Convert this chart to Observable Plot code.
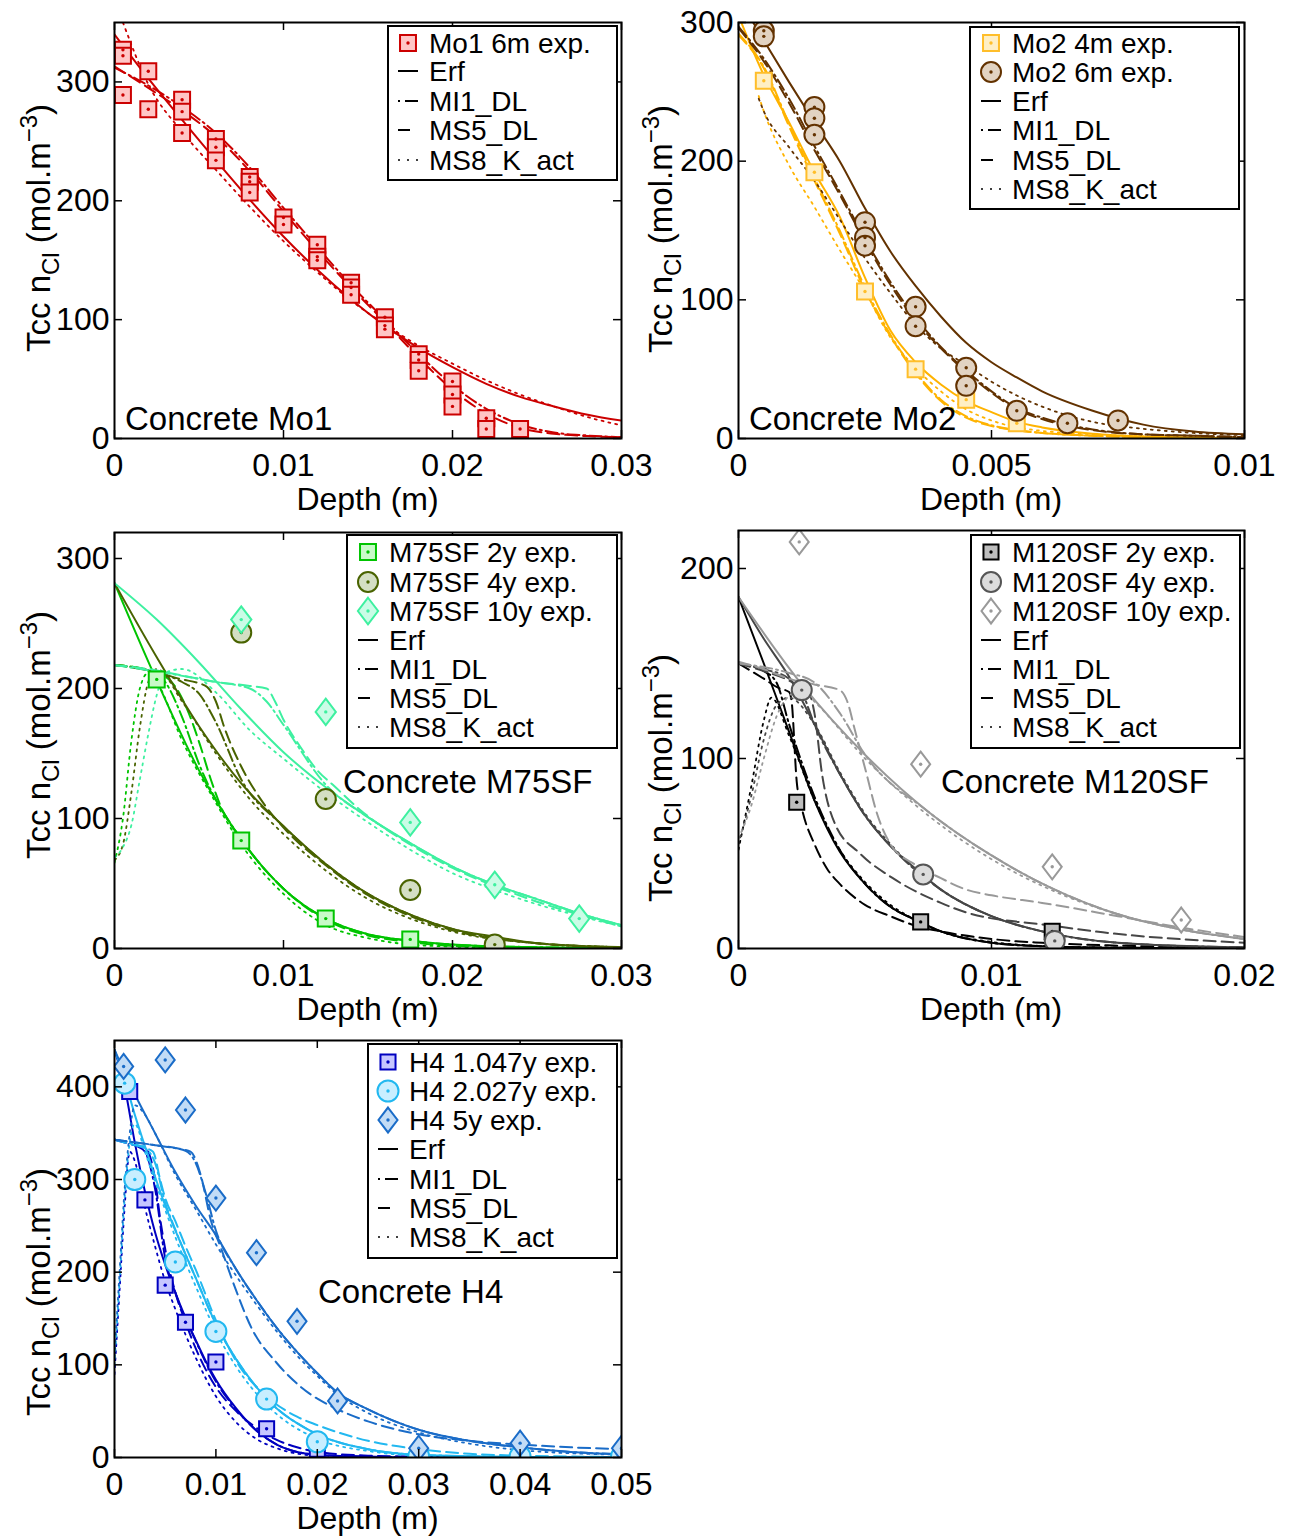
<!DOCTYPE html>
<html><head><meta charset="utf-8">
<script src="https://cdn.jsdelivr.net/npm/d3@7"></script>
<script src="https://cdn.jsdelivr.net/npm/@observablehq/plot@0.6"></script>
<style>
body{margin:0;background:#fff;}
#root{position:relative;width:1289px;height:1537px;font-family:"Liberation Sans",Arial,sans-serif;background:#fff;}
.panel{position:absolute;}
</style></head><body><div id="root"></div>
<script>
// ---------------- DATA ----------------
// Panel 1 : Concrete Mo1
const mo1ExpX = [0.0005,0.0005,0.0005,0.002,0.002,0.004,0.004,0.004,0.006,0.006,0.006,0.008,0.008,0.008,0.01,0.01,0.012,0.012,0.012,0.014,0.014,0.014,0.016,0.016,0.016,0.018,0.018,0.018,0.02,0.02,0.02,0.022,0.022,0.024];
const mo1ExpY = [327,322,289,309,277,285,275,257,252,245,234,220,216,207,186,180,163,153,150,131,127,121,102,95,92,71,66,57,48,37,27,17,8,8];
const mo1X = [0,0.002,0.004,0.006,0.008,0.01,0.012,0.014,0.016,0.018,0.02,0.022,0.024,0.026,0.028,0.03];
const mo1Erf = [340,303,268,234,201,170,142,117,95,76,60,46,35,27,20,15];
const mo1MI1 = [312,297,279,257,228,194,161,129,100,71,45,25,12,5,2.5,1];
const mo1MS5 = [313,295,276,254,225,191,158,127,98,68,41,21,9,4,2,1];
const mo1MS8X = [0.0005,0.002,0.004,0.006,0.008,0.01,0.012,0.014,0.016,0.018,0.02,0.022,0.024,0.026,0.028,0.03];
const mo1MS8 = [350,298,258,226,195,166,140,116,96,78,63,49,37,27,18,11];

// Panel 2 : Concrete Mo2
const mo2Exp4X = [0.0005,0.0015,0.0025,0.0035,0.0045,0.0055];
const mo2Exp4Y = [258,192,106,50,28,11];
const mo2Exp6X = [0.0005,0.0005,0.0015,0.0015,0.0015,0.0025,0.0025,0.0025,0.0035,0.0035,0.0045,0.0045,0.0055,0.0065,0.0075];
const mo2Exp6Y = [294,290,239,231,219,156,145,139,95,81,51,38,20,11,13];
const mo2X = [0,0.0005,0.001,0.0015,0.002,0.0025,0.003,0.0035,0.004,0.0045,0.005,0.0055,0.006,0.007,0.008,0.009,0.01];
const mo2Erf6 = [318,287,257,228,200,166,135,110,88,69,55,44,34,20,10,5,3];
const mo2MI1_6 = [297,274,245,211,178,144,113,87,66,49,34,22,15,6.5,3,2,1];
const mo2MS5_6 = [296,272,242,208,176,142,111,85,65,48,33,21,14,6,3,2,1];
const mo2Erf4 = [305,262,228,192,160,116,78,55,39,27,19,12,8,3.5,1.5,0.7,0.3];
const mo2MI1_4 = [292,268,227,188,150,109,75,48,28,16,9.5,6,4,2,1,0.5,0.3];
const mo2MS5_4 = [291,267,225,186,148,107,74,47,27,15,9,6,4,2,1,0.5,0.3];
const mo2MS8X = [0.0004,0.0005,0.001,0.0015,0.002,0.0025,0.003,0.0035,0.004,0.0045,0.005,0.0055,0.006,0.007,0.008,0.009,0.01];
const mo2MS8_6 = [245,236,210,186,158,130,105,82,65,53,41,31,23,12,7,4,2.4];
const mo2MS8_4 = [247,236,197,167,136,106,73,51,34,21,13,8,5.5,3,1.5,1,0.5];

// Panel 3 : Concrete M75SF
const m75Exp2X = [0.0025,0.0075,0.0125,0.0175,0.0225];
const m75Exp2Y = [207,83,23,7,1];
const m75Exp4X = [0.0075,0.0125,0.0175,0.0225];
const m75Exp4Y = [243,115,45,3];
const m75Exp10X = [0.0075,0.0125,0.0175,0.0225,0.0275];
const m75Exp10Y = [253,182,97,49,23];
const m75X = [0,0.0025,0.005,0.0075,0.01,0.0125,0.015,0.0175,0.02,0.0225,0.025,0.0275,0.03];
const m75Erf2 = [281,206,137,84,46,23,11,6,3,1.5,1,0.5,0.3];
const m75Erf4 = [281,224,171,127,94,65,42,26,15,9,4,2,1];
const m75Erf10 = [281,253,220,184,151,124,101,81,63,49,38,27,18];
const m75MS5_2X = [0,0.002,0.0033,0.0043,0.0051,0.0057,0.0063,0.0075,0.01,0.0125,0.015,0.0175,0.02,0.025,0.03];
const m75MS5_2 = [218,214,206,184,155,130,109,84,46,22,10,5,2,0.5,0.2];
const m75MS5_4X = [0,0.002,0.004,0.005,0.0055,0.006,0.0065,0.0075,0.0088,0.01,0.0125,0.015,0.0175,0.02,0.025,0.03];
const m75MS5_4 = [218,214,207,204,201,190,170,140,112,93,64,41,25,14,4,1];
const m75MS5_10X = [0,0.002,0.004,0.006,0.008,0.009,0.0095,0.01,0.011,0.012,0.013,0.0145,0.0175,0.02,0.0225,0.025,0.0275,0.03];
const m75MS5_10 = [218,215,210,205,202,200,190,176,155,137,125,107,80,62,48,36,26,17];
const m75MI1_2X = [0,0.002,0.003,0.004,0.005,0.0075,0.01,0.0125,0.015,0.0175,0.02,0.025,0.03];
const m75MI1_2 = [218,214,205,178,142,84,46,23,11,6,3,1,0.3];
const m75MI1_4X = [0,0.002,0.004,0.005,0.006,0.0075,0.01,0.0125,0.015,0.0175,0.02,0.025,0.03];
const m75MI1_4 = [218,214,205,196,174,130,94,65,42,26,15,4,1];
const m75MI1_10X = [0,0.003,0.006,0.008,0.009,0.01,0.0125,0.015,0.0175,0.02,0.0225,0.025,0.0275,0.03];
const m75MI1_10 = [218,212,205,200,190,172,126,101,81,63,49,38,27,18];
const m75MS8_2X = [0,0.0005,0.001,0.0015,0.002,0.0025,0.004,0.006,0.0075,0.01,0.0125,0.015,0.0175,0.02,0.025,0.03];
const m75MS8_2 = [66,100,160,200,212,205,160,112,80,42,18,8,3,1.5,0.4,0.1];
const m75MS8_4X = [0,0.0005,0.001,0.0015,0.002,0.0025,0.004,0.006,0.008,0.01,0.0125,0.015,0.0175,0.02,0.025,0.03];
const m75MS8_4 = [68,80,120,170,205,215,190,150,115,88,60,38,23,13,4,1];
const m75MS8_10X = [0,0.0005,0.001,0.0015,0.002,0.0025,0.003,0.004,0.006,0.008,0.01,0.0125,0.015,0.0175,0.02,0.0225,0.025,0.0275,0.03];
const m75MS8_10 = [70,78,95,130,165,195,212,215,197,168,146,120,97,76,58,45,34,25,17];

// Panel 4 : Concrete M120SF
const m120Exp2X = [0.0023,0.0072,0.0124];
const m120Exp2Y = [77,14,9];
const m120Exp4X = [0.0025,0.0073,0.0125];
const m120Exp4Y = [136,39,4];
const m120Exp10X = [0.0024,0.0072,0.0124,0.0175];
const m120Exp10Y = [214,97,43,15];
const m120ErfX = [0,0.001,0.002,0.003,0.004,0.005,0.006,0.007,0.008,0.01,0.012,0.015,0.02];
const m120Erf2 = [185,150,114,78,51,34,22,15,9,3,1.2,0.4,0.1];
const m120Erf4 = [185,163,143,118,92,70,54,42,31,17,9,3,0.5];
const m120Erf10X = [0,0.0025,0.005,0.0075,0.01,0.0125,0.015,0.0175,0.02];
const m120Erf10 = [185,139,102,72,49,31,18,10,5];
const m120MS5_2X = [0,0.001,0.0016,0.002,0.0021,0.0023,0.0025,0.003,0.0035,0.004,0.005,0.006,0.007,0.008,0.01,0.012,0.015,0.02];
const m120MS5_2 = [150,142,137,135,130,88,74,55,42,34,23,17,12,9,5,3,1.5,0.5];
const m120MS5_4X = [0,0.001,0.002,0.0028,0.003,0.0033,0.0038,0.0048,0.0061,0.008,0.009,0.0124,0.0144,0.02];
const m120MS5_4 = [150,146,141,134,124,92,66,50,37,24,19,12,8.5,3];
const m120MS5_10X = [0,0.001,0.002,0.003,0.004,0.0043,0.0046,0.005,0.0055,0.006,0.007,0.008,0.009,0.01,0.012,0.015,0.0175,0.02];
const m120MS5_10 = [151,147,142,139,136,130,115,95,70,55,44,37,31,28,24,17,11,6];
const m120MI1_2X = [0,0.001,0.0015,0.002,0.003,0.004,0.005,0.006,0.007,0.008,0.01,0.012,0.015,0.02];
const m120MI1_2 = [150,146,140,118,80,52,34,22,15,9,3,1.2,0.4,0.1];
const m120MI1_4X = [0,0.001,0.002,0.0025,0.003,0.004,0.005,0.006,0.008,0.01,0.012,0.015,0.02];
const m120MI1_4 = [150,147,142,135,118,92,70,54,31,17,9,3,0.5];
const m120MI1_10X = [0,0.002,0.003,0.004,0.005,0.0075,0.01,0.0125,0.015,0.0175,0.02];
const m120MI1_10 = [150,145,140,124,102,72,49,31,18,10,5];
const m120MS8_2X = [0,0.0005,0.001,0.0013,0.002,0.003,0.004,0.005,0.006,0.007,0.008,0.01,0.012,0.015,0.02];
const m120MS8_2 = [52,85,120,132,112,78,52,35,23,15,9,3.5,1.3,0.4,0.1];
const m120MS8_4X = [0,0.0005,0.001,0.0015,0.002,0.003,0.004,0.005,0.006,0.008,0.01,0.012,0.015,0.02];
const m120MS8_4 = [55,80,110,128,132,118,93,71,55,31,17,9,3,0.5];
const m120MS8_10X = [0,0.0005,0.001,0.0015,0.002,0.0025,0.003,0.005,0.0075,0.01,0.0125,0.015,0.0175,0.02];
const m120MS8_10 = [58,75,100,122,133,136,130,100,70,47,30,18,10,5];

// Panel 5 : Concrete H4
const h4Exp1X = [0.0015,0.003,0.005,0.007,0.01,0.015,0.02];
const h4Exp1Y = [395,278,186,146,103,31,9];
const h4Exp2X = [0.001,0.002,0.006,0.01,0.015,0.02,0.03,0.04,0.05];
const h4Exp2Y = [404,300,211,136,63,17,1,1,1];
const h4Exp5X = [0.0009,0.005,0.007,0.01,0.014,0.018,0.022,0.03,0.04,0.05];
const h4Exp5Y = [422,429,375,280,221,147,61,10,15.5,10];
const h4Erf1X = [0,0.001,0.002,0.003,0.004,0.005,0.006,0.007,0.008,0.009,0.01,0.012,0.014,0.016,0.018,0.02,0.025,0.03,0.05];
const h4Erf1 = [440,400,340,287,243,208,178,151,127,104,84,53,29,14,6,3,0.8,0.2,0];
const h4Erf2X = [0,0.001,0.002,0.003,0.004,0.005,0.006,0.008,0.01,0.012,0.014,0.016,0.018,0.02,0.025,0.03,0.04,0.05];
const h4Erf2 = [440,408,370,336,303,272,245,194,144,106,76,53,37,25,9,3,0.5,0];
const h4Erf5X = [0,0.002,0.004,0.006,0.008,0.01,0.012,0.014,0.016,0.018,0.02,0.022,0.025,0.03,0.035,0.04,0.045,0.05];
const h4Erf5 = [440,392,350,308,272,240,203,170,140,114,91,70,52,30,18,11,6,3.5];
const h4MS5_1X = [0,0.001,0.002,0.003,0.0035,0.004,0.0045,0.005,0.006,0.007,0.008,0.01,0.012,0.014,0.016,0.018,0.02,0.025,0.03,0.05];
const h4MS5_1 = [343,340,337,334,325,300,258,225,178,146,118,76,50,32,19,11,6,2,1,0];
const h4MS5_2X = [0,0.001,0.002,0.003,0.0038,0.0045,0.005,0.006,0.007,0.008,0.01,0.012,0.015,0.018,0.02,0.025,0.03,0.035,0.04,0.05];
const h4MS5_2 = [343,340,337,334,330,300,280,255,228,203,148,104,66,44,35,18,9,4,2,0.5];
const h4MS5_5X = [0,0.002,0.004,0.006,0.0075,0.0085,0.0095,0.0105,0.012,0.0135,0.016,0.0185,0.022,0.025,0.03,0.035,0.04,0.045,0.05];
const h4MS5_5 = [343,340,337,334,330,305,256,226,180,140,102,75,52,39,25,18,14,11,9];
const h4MI1_1X = [0,0.002,0.003,0.004,0.005,0.006,0.008,0.01,0.012,0.014,0.016,0.018,0.02,0.025,0.03,0.05];
const h4MI1_1 = [343,337,330,290,215,178,126,82,52,29,14,6,3,1,0.3,0];
const h4MI1_2X = [0,0.002,0.003,0.004,0.005,0.006,0.008,0.01,0.012,0.014,0.016,0.018,0.02,0.025,0.03,0.04,0.05];
const h4MI1_2 = [343,338,334,318,275,246,194,144,106,76,53,37,25,9,3,0.5,0];
const h4MI1_5X = [0,0.004,0.007,0.008,0.009,0.01,0.012,0.014,0.016,0.018,0.02,0.022,0.025,0.03,0.035,0.04,0.045,0.05];
const h4MI1_5 = [343,337,331,318,285,245,203,170,140,114,91,70,52,30,18,11,6,3.5];
const h4MS8_1X = [0,0.0005,0.001,0.0015,0.002,0.003,0.004,0.005,0.006,0.008,0.01,0.012,0.014,0.016,0.02,0.03,0.05];
const h4MS8_1 = [90,180,270,330,320,270,228,190,160,108,66,38,20,10,2,0.3,0];
const h4MS8_2X = [0,0.0005,0.001,0.0015,0.002,0.003,0.004,0.006,0.008,0.01,0.012,0.015,0.02,0.025,0.03,0.04,0.05];
const h4MS8_2 = [100,190,280,340,360,330,298,238,185,136,98,57,20,7,2,0.3,0];
const h4MS8_5X = [0,0.0005,0.001,0.0015,0.002,0.003,0.004,0.006,0.008,0.01,0.012,0.014,0.016,0.018,0.02,0.022,0.025,0.03,0.035,0.04,0.05];
const h4MS8_5 = [110,200,290,350,380,370,350,305,268,230,196,165,136,110,88,68,48,27,15,8,3];

// Tick values
const xTicks1 = [0,0.01,0.02,0.03];
const xTicks2 = [0,0.005,0.01];
const xTicks4 = [0,0.01,0.02];
const xTicks5 = [0,0.01,0.02,0.03,0.04,0.05];
const yTicks123 = [0,100,200,300];
const yTicks4 = [0,100,200];
const yTicks5 = [0,100,200,300,400];
const modelNames = ["Erf","MI1_DL","MS5_DL","MS8_K_act"];

// ---------------- RENDERING ----------------
const FONT = '"Liberation Sans", Arial, Helvetica, sans-serif';
const rows = (xs, ys) => xs.map((x, i) => ({x, y: ys[i]}));
const diamondSym = {draw(ctx, size){const r=Math.sqrt(size/Math.PI);const hh=1.56*r,hw=1.19*r;ctx.moveTo(0,-hh);ctx.lineTo(hw,0);ctx.lineTo(0,hh);ctx.lineTo(-hw,0);ctx.closePath();}};
const PLOTSYM = {square:"square", circle:"circle", diamond: diamondSym};
const D3SYM = {square:d3.symbolSquare, circle:d3.symbolCircle, diamond: diamondSym};
const DASH = {erf: null, mi1: "12,4,2,4", ms5: "12,6", ms8: "2,5"};

const C = {
  red:"#CC0000", redFill:"#FFC6C6",
  yellow:"#FFB300", yellowEdge:"#FFBE2A", yellowFill:"#FFEFC4",
  brown:"#633200", brownFill:"#E2D3C2",
  green:"#00C400", greenFill:"#C8FAC8",
  olive:"#496300", oliveFill:"#D4DFC4",
  aqua:"#3EF0A0", aquaFill:"#CAFCE6",
  black:"#000000", blackFill:"#BDBDBD",
  dgray:"#464646", dgrayEdge:"#555555", dgrayFill:"#DCDCDC",
  lgray:"#999999", lgrayFill:"#FFFFFF",
  dblue:"#0000C0", dblueFill:"#C6C6FF",
  cyan:"#22B8F0", cyanFill:"#C8EEFF",
  mblue:"#1A6CC8", mblueFill:"#C2DCF6"
};

function series(color, erf, mi1, ms5, ms8) {
  return [
    {kind:"erf", color, xs:erf[0], ys:erf[1]},
    {kind:"mi1", color, xs:mi1[0], ys:mi1[1]},
    {kind:"ms5", color, xs:ms5[0], ys:ms5[1]},
    {kind:"ms8", color, xs:ms8[0], ys:ms8[1]}
  ];
}

const panels = [
  { left:0, top:0, width:645, height:520, m:[22,24,82,114],
    xDomain:[0,0.03], yDomain:[0,350], xTicks:xTicks1, yTicks:yTicks123,
    lines: series(C.red,[mo1X,mo1Erf],[mo1X,mo1MI1],[mo1X,mo1MS5],[mo1MS8X,mo1MS8]),
    exp: [{label:"Mo1 6m exp.", xs:mo1ExpX, ys:mo1ExpY, shape:"square", r:9, fill:C.redFill, stroke:C.red}],
    legend:{box:[388,26,617,180], mx:408, tx:429, rows:[43,71,101,130,160]},
    ylab:{x:50, y:228}, note:{text:"Concrete Mo1", x:125, y:418} },
  { left:645, top:0, width:644, height:520, m:[22,45,82,93],
    xDomain:[0,0.01], yDomain:[0,300], xTicks:xTicks2, yTicks:yTicks123,
    lines: [
      ...series(C.yellow,[mo2X,mo2Erf4],[mo2X,mo2MI1_4],[mo2X,mo2MS5_4],[mo2MS8X,mo2MS8_4]),
      ...series(C.brown,[mo2X,mo2Erf6],[mo2X,mo2MI1_6],[mo2X,mo2MS5_6],[mo2MS8X,mo2MS8_6])],
    exp: [
      {label:"Mo2 4m exp.", xs:mo2Exp4X, ys:mo2Exp4Y, shape:"square", r:9, fill:C.yellowFill, stroke:C.yellowEdge},
      {label:"Mo2 6m exp.", xs:mo2Exp6X, ys:mo2Exp6Y, shape:"circle", r:10, fill:C.brownFill, stroke:C.brown}],
    legend:{box:[970,27,1239,209], mx:991, tx:1012, rows:[43,72,101,130,160,189]},
    ylab:{x:672, y:229}, note:{text:"Concrete Mo2", x:749, y:418} },
  { left:0, top:520, width:645, height:510, m:[12,24,82,114],
    xDomain:[0,0.03], yDomain:[0,320], xTicks:xTicks1, yTicks:yTicks123,
    lines: [
      ...series(C.green,[m75X,m75Erf2],[m75MI1_2X,m75MI1_2],[m75MS5_2X,m75MS5_2],[m75MS8_2X,m75MS8_2]),
      ...series(C.olive,[m75X,m75Erf4],[m75MI1_4X,m75MI1_4],[m75MS5_4X,m75MS5_4],[m75MS8_4X,m75MS8_4]),
      ...series(C.aqua,[m75X,m75Erf10],[m75MI1_10X,m75MI1_10],[m75MS5_10X,m75MS5_10],[m75MS8_10X,m75MS8_10])],
    exp: [
      {label:"M75SF 2y exp.", xs:m75Exp2X, ys:m75Exp2Y, shape:"square", r:9, fill:C.greenFill, stroke:C.green},
      {label:"M75SF 4y exp.", xs:m75Exp4X, ys:m75Exp4Y, shape:"circle", r:10, fill:C.oliveFill, stroke:C.olive},
      {label:"M75SF 10y exp.", xs:m75Exp10X, ys:m75Exp10Y, shape:"diamond", r:8.5, fill:C.aquaFill, stroke:C.aqua}],
    legend:{box:[347,535,617,748], mx:368, tx:389, rows:[552,582,611,640,669,698,727]},
    ylab:{x:50, y:735}, note:{text:"Concrete M75SF", x:343, y:781} },
  { left:645, top:520, width:644, height:510, m:[10,45,82,93],
    xDomain:[0,0.02], yDomain:[0,220], xTicks:xTicks4, yTicks:yTicks4,
    lines: [
      ...series(C.black,[m120ErfX,m120Erf2],[m120MI1_2X,m120MI1_2],[m120MS5_2X,m120MS5_2],[m120MS8_2X,m120MS8_2]),
      ...series(C.dgray,[m120ErfX,m120Erf4],[m120MI1_4X,m120MI1_4],[m120MS5_4X,m120MS5_4],[m120MS8_4X,m120MS8_4]),
      ...series(C.lgray,[m120Erf10X,m120Erf10],[m120MI1_10X,m120MI1_10],[m120MS5_10X,m120MS5_10],[m120MS8_10X,m120MS8_10])],
    exp: [
      {label:"M120SF 2y exp.", xs:m120Exp2X, ys:m120Exp2Y, shape:"square", r:8.5, fill:C.blackFill, stroke:C.black},
      {label:"M120SF 4y exp.", xs:m120Exp4X, ys:m120Exp4Y, shape:"circle", r:10, fill:C.dgrayFill, stroke:C.dgrayEdge},
      {label:"M120SF 10y exp.", xs:m120Exp10X, ys:m120Exp10Y, shape:"diamond", r:8, fill:C.lgrayFill, stroke:C.lgray}],
    legend:{box:[971,535,1240,748], mx:991, tx:1012, rows:[552,582,611,640,669,698,727]},
    ylab:{x:672, y:778}, note:{text:"Concrete M120SF", x:941, y:781} },
  { left:0, top:1030, width:645, height:507, m:[10,24,80,114],
    xDomain:[0,0.05], yDomain:[0,450], xTicks:xTicks5, yTicks:yTicks5,
    lines: [
      ...series(C.dblue,[h4Erf1X,h4Erf1],[h4MI1_1X,h4MI1_1],[h4MS5_1X,h4MS5_1],[h4MS8_1X,h4MS8_1]),
      ...series(C.cyan,[h4Erf2X,h4Erf2],[h4MI1_2X,h4MI1_2],[h4MS5_2X,h4MS5_2],[h4MS8_2X,h4MS8_2]),
      ...series(C.mblue,[h4Erf5X,h4Erf5],[h4MI1_5X,h4MI1_5],[h4MS5_5X,h4MS5_5],[h4MS8_5X,h4MS8_5])],
    exp: [
      {label:"H4 1.047y exp.", xs:h4Exp1X, ys:h4Exp1Y, shape:"square", r:8.5, fill:C.dblueFill, stroke:C.dblue},
      {label:"H4 2.027y exp.", xs:h4Exp2X, ys:h4Exp2Y, shape:"circle", r:10.5, fill:C.cyanFill, stroke:C.cyan},
      {label:"H4 5y exp.", xs:h4Exp5X, ys:h4Exp5Y, shape:"diamond", r:8, fill:C.mblueFill, stroke:C.mblue}],
    legend:{box:[368,1044,617,1258], mx:388, tx:409, rows:[1062,1091,1120,1149,1179,1208,1237]},
    ylab:{x:50, y:1292}, note:{text:"Concrete H4", x:318, y:1291} }
];

const root = document.getElementById("root");

for (const p of panels) {
  const [mt, mr, mb, ml] = p.m;
  const pw = p.width - ml - mr, ph = p.height - mt - mb;
  const marks = [];
  for (const L of p.lines) {
    marks.push(Plot.line(rows(L.xs, L.ys), {x:"x", y:"y", stroke:L.color,
      strokeWidth: L.kind === "ms8" ? 1.8 : 2, strokeDasharray: DASH[L.kind],
      curve:"monotone-x", clip:true}));
  }
  for (const E of p.exp) {
    const d = rows(E.xs, E.ys);
    marks.push(Plot.dot(d, {x:"x", y:"y", symbol:PLOTSYM[E.shape], r:E.r, fill:E.fill, fillOpacity:1, stroke:E.stroke, strokeWidth:2, clip:true}));
    marks.push(Plot.dot(d, {x:"x", y:"y", r:1.7, fill:E.stroke, stroke:"none", clip:true}));
  }
  marks.push(Plot.tickX(p.xTicks, {x:d=>d, insetTop:ph-8, stroke:"#000", strokeWidth:1.5}));
  marks.push(Plot.tickX(p.xTicks, {x:d=>d, insetBottom:ph-8, stroke:"#000", strokeWidth:1.5}));
  marks.push(Plot.tickY(p.yTicks, {y:d=>d, insetRight:pw-8, stroke:"#000", strokeWidth:1.5}));
  marks.push(Plot.tickY(p.yTicks, {y:d=>d, insetLeft:pw-8, stroke:"#000", strokeWidth:1.5}));
  marks.push(Plot.frame({stroke:"#000", strokeWidth:2}));
  marks.push(Plot.axisX({ticks:p.xTicks, tickSize:0, tickPadding:15, fontSize:32, fontFamily:FONT, tickFormat:d=>String(d), label:null}));
  marks.push(Plot.axisY({ticks:p.yTicks, tickSize:0, tickPadding:5, fontSize:32, fontFamily:FONT, tickFormat:d=>String(d), label:null}));

  const svg = Plot.plot({
    width:p.width, height:p.height,
    marginTop:mt, marginRight:mr, marginBottom:mb, marginLeft:ml,
    x:{domain:p.xDomain, label:null},
    y:{domain:p.yDomain, label:null},
    style:{fontFamily:FONT, color:"#000", background:"transparent", overflow:"visible"},
    marks
  });

  const s = d3.select(svg);
  const ox = p.left, oy = p.top;

  // x label
  s.append("text").attr("x", ml + pw/2).attr("y", mt + ph + 72)
    .attr("text-anchor","middle").attr("font-size",32).attr("font-family",FONT).attr("fill","#000")
    .text("Depth (m)");

  // y label with sub/superscript
  const yl = s.append("text")
    .attr("transform", `translate(${p.ylab.x - ox},${p.ylab.y - oy}) rotate(-90)`)
    .attr("text-anchor","middle").attr("font-size",33).attr("font-family",FONT).attr("fill","#000");
  yl.append("tspan").text("Tcc n");
  yl.append("tspan").attr("baseline-shift","-9").attr("font-size",24).text("Cl");
  yl.append("tspan").text(" (mol.m");
  yl.append("tspan").attr("baseline-shift","13").attr("font-size",24).text("−3");
  yl.append("tspan").text(")");

  // annotation
  s.append("text").attr("x", p.note.x - ox).attr("y", p.note.y - oy).attr("dy","0.35em")
    .attr("text-anchor","start")
    .attr("font-size",33).attr("font-family",FONT).attr("fill","#000").text(p.note.text);

  // legend
  const lg = p.legend;
  const g = s.append("g").attr("text-anchor","start");
  g.append("rect").attr("x", lg.box[0]-ox).attr("y", lg.box[1]-oy)
    .attr("width", lg.box[2]-lg.box[0]).attr("height", lg.box[3]-lg.box[1])
    .attr("fill","#fff").attr("stroke","#000").attr("stroke-width",2);
  const mx = lg.mx - ox, tx = lg.tx - ox;
  const labels = [...p.exp.map(e => e.label), ...modelNames];
  labels.forEach((lab, i) => {
    const y = lg.rows[i] - oy;
    if (i < p.exp.length) {
      const E = p.exp[i];
      g.append("path").attr("transform",`translate(${mx},${y})`)
        .attr("d", d3.symbol(D3SYM[E.shape], Math.PI*E.r*E.r)())
        .attr("fill",E.fill).attr("stroke",E.stroke).attr("stroke-width",2);
      g.append("circle").attr("cx",mx).attr("cy",y).attr("r",1.7).attr("fill",E.stroke);
    } else {
      const k = i - p.exp.length;
      const ln = g.append("line").attr("y1",y).attr("y2",y).attr("stroke","#000").attr("stroke-width", k===3?1.7:2);
      if (k === 0) ln.attr("x1",mx-10).attr("x2",mx+10);
      if (k === 1) ln.attr("x1",mx-10).attr("x2",mx+10).attr("stroke-dasharray","2,5,13");
      if (k === 2) ln.attr("x1",mx-10).attr("x2",mx+2);
      if (k === 3) ln.attr("x1",mx-10).attr("x2",mx+10).attr("stroke-dasharray","2,7");
    }
    g.append("text").attr("x",tx).attr("y",y).attr("dy","0.35em").attr("text-anchor","start")
      .attr("font-size",28).attr("font-family",FONT).attr("fill","#000").text(lab);
  });

  const div = document.createElement("div");
  div.className = "panel";
  div.style.left = p.left + "px";
  div.style.top = p.top + "px";
  div.style.width = p.width + "px";
  div.style.height = p.height + "px";
  div.appendChild(svg);
  root.appendChild(div);
}
</script></body></html>
